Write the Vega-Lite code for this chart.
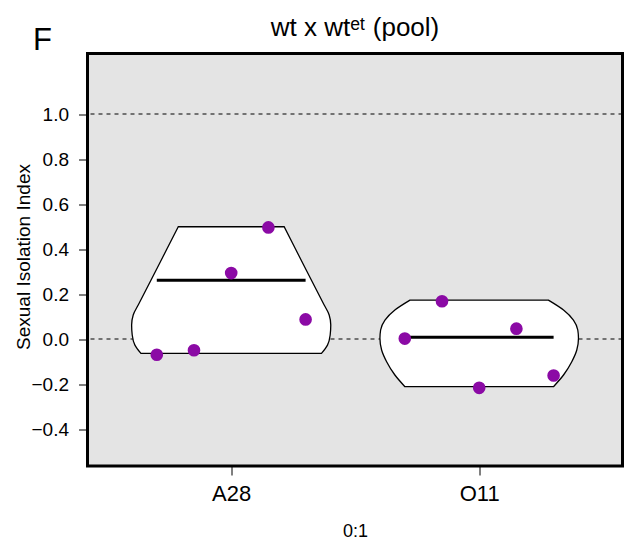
{
  "$schema": "https://vega.github.io/schema/vega-lite/v6.json",
  "width": 535,
  "height": 412.5,
  "autosize": {"type": "none"},
  "padding": {"left": 87.5, "top": 53.5, "right": 8.5, "bottom": 76},
  "background": "white",
  "title": {
    "text": "wt x wtᵉᵗ (pool)",
    "anchor": "middle",
    "frame": "group",
    "fontSize": 26,
    "fontWeight": "normal",
    "color": "black",
    "font": "Liberation Sans",
    "dy": 21
  },
  "config": {
    "font": "Liberation Sans",
    "view": {"fill": "#e4e4e4", "stroke": "black", "strokeWidth": 3},
    "axis": {"grid": false, "domain": false, "tickColor": "black", "tickWidth": 1, "labelColor": "black", "titleColor": "black", "titleFontWeight": "normal", "labelFont": "Liberation Sans", "titleFont": "Liberation Sans"}
  },
  "datasets": {
    "refs": [{"ref": 1.0}, {"ref": 0.0}],
    "beans": [
      {"bean": "A28", "v": 0.499, "xl": 0.7865, "xr": 1.2135},
      {"bean": "A28", "v": 0.40, "xl": 0.7407, "xr": 1.2593},
      {"bean": "A28", "v": 0.33, "xl": 0.7084, "xr": 1.2916},
      {"bean": "A28", "v": 0.261, "xl": 0.6764, "xr": 1.3236},
      {"bean": "A28", "v": 0.151, "xl": 0.6251, "xr": 1.3749},
      {"bean": "A28", "v": 0.107, "xl": 0.6049, "xr": 1.3951},
      {"bean": "A28", "v": 0.062, "xl": 0.5985, "xr": 1.4015},
      {"bean": "A28", "v": 0.018, "xl": 0.6009, "xr": 1.3991},
      {"bean": "A28", "v": -0.027, "xl": 0.6118, "xr": 1.3882},
      {"bean": "A28", "v": -0.064, "xl": 0.636, "xr": 1.364},
      {"bean": "O11", "v": 0.173, "xl": 1.721, "xr": 2.279},
      {"bean": "O11", "v": 0.129, "xl": 1.660, "xr": 2.340},
      {"bean": "O11", "v": 0.084, "xl": 1.620, "xr": 2.380},
      {"bean": "O11", "v": 0.040, "xl": 1.6025, "xr": 2.3975},
      {"bean": "O11", "v": 0.003, "xl": 1.5997, "xr": 2.4003},
      {"bean": "O11", "v": -0.049, "xl": 1.6065, "xr": 2.3935},
      {"bean": "O11", "v": -0.101, "xl": 1.6267, "xr": 2.3733},
      {"bean": "O11", "v": -0.160, "xl": 1.660, "xr": 2.340},
      {"bean": "O11", "v": -0.212, "xl": 1.7006, "xr": 2.2994}
    ],
    "means": [
      {"bean": "A28", "m": 0.261, "xl": 0.7, "xr": 1.3},
      {"bean": "O11", "m": 0.0074, "xl": 1.7, "xr": 2.3}
    ],
    "points": [
      {"bean": "A28", "x": 0.70, "v": -0.070},
      {"bean": "A28", "x": 0.85, "v": -0.050},
      {"bean": "A28", "x": 1.00, "v": 0.293},
      {"bean": "A28", "x": 1.15, "v": 0.496},
      {"bean": "A28", "x": 1.30, "v": 0.087},
      {"bean": "O11", "x": 1.70, "v": 0.002},
      {"bean": "O11", "x": 1.85, "v": 0.168},
      {"bean": "O11", "x": 2.00, "v": -0.217},
      {"bean": "O11", "x": 2.15, "v": 0.046},
      {"bean": "O11", "x": 2.30, "v": -0.162}
    ]
  },
  "resolve": {"axis": {"x": "independent"}},
  "layer": [
    {
      "data": {"name": "refs"},
      "mark": {"type": "rule", "strokeDash": [4, 4], "color": "black", "strokeWidth": 1},
      "encoding": {
        "y": {
          "field": "ref", "type": "quantitative",
          "scale": {"domain": [-0.5644, 1.2689], "nice": false, "zero": false},
          "axis": {
            "values": [-0.4, -0.2, 0, 0.2, 0.4, 0.6, 0.8, 1.0],
            "format": ".1f",
            "tickSize": 9,
            "labelFontSize": 19,
            "labelPadding": 10,
            "title": "Sexual Isolation Index",
            "titleFontSize": 19,
            "titleAngle": 270,
            "titleX": -58,
            "titleY": 203,
            "titleAlign": "center",
            "titleBaseline": "alphabetic"
          }
        }
      }
    },
    {
      "data": {"name": "beans"},
      "mark": {"type": "area", "orient": "horizontal", "interpolate": "monotone", "fill": "white", "stroke": "black", "strokeWidth": 1.3},
      "encoding": {
        "y": {"field": "v", "type": "quantitative"},
        "x": {
          "field": "xl", "type": "quantitative",
          "scale": {"domain": [0.4206, 2.5778], "nice": false, "zero": false},
          "axis": {
            "values": [1, 2],
            "labelExpr": "datum.value == 1 ? 'A28' : 'O11'",
            "tickSize": 9,
            "labelFontSize": 22,
            "labelPadding": 8,
            "title": "0:1",
            "titleFontSize": 18,
            "titleX": 267.5,
            "titleY": 70.5,
            "titleBaseline": "alphabetic"
          }
        },
        "x2": {"field": "xr"},
        "detail": {"field": "bean"}
      }
    },
    {
      "data": {"name": "means"},
      "mark": {"type": "rule", "color": "black", "strokeWidth": 3},
      "encoding": {
        "y": {"field": "m", "type": "quantitative"},
        "x": {"field": "xl", "type": "quantitative", "axis": null},
        "x2": {"field": "xr"}
      }
    },
    {
      "data": {"name": "points"},
      "mark": {"type": "circle", "color": "#8B0AA5", "opacity": 1, "size": 160},
      "encoding": {
        "y": {"field": "v", "type": "quantitative"},
        "x": {
          "field": "x", "type": "quantitative",
          "axis": {
            "orient": "top",
            "labels": false,
            "ticks": false,
            "domain": false,
            "title": "F",
            "titleFontSize": 31,
            "titleX": -55,
            "titleY": -4.2,
            "titleAlign": "left",
            "titleBaseline": "alphabetic",
            "titleAngle": 0
          }
        }
      }
    }
  ]
}
